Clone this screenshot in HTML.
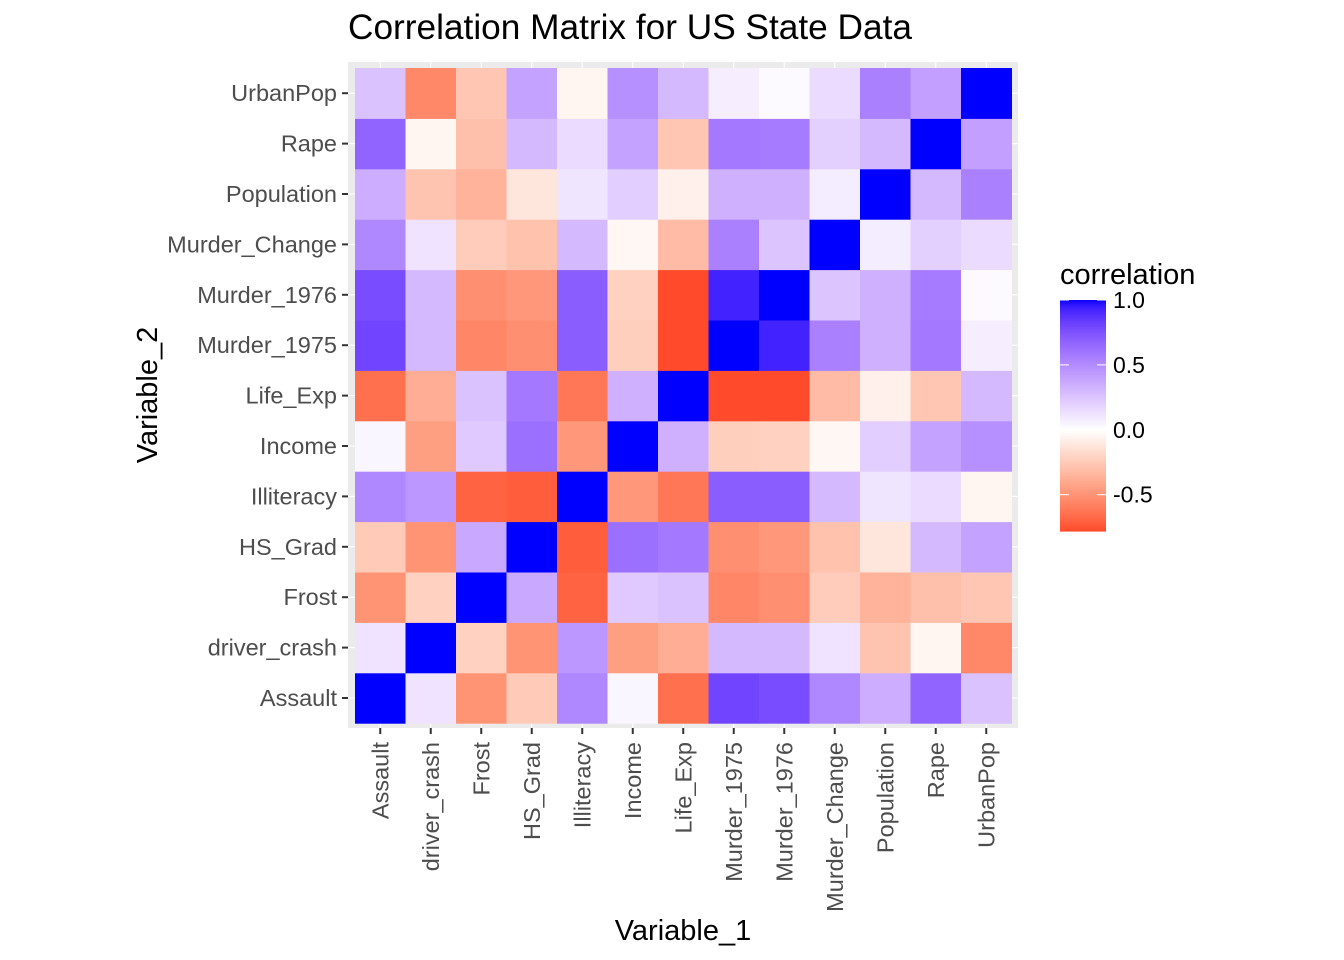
<!DOCTYPE html>
<html><head><meta charset="utf-8">
<style>
html,body{margin:0;padding:0;background:#fff;}
svg{display:block;font-family:"Liberation Sans",Arial,sans-serif;}
</style></head>
<body>
<svg id="chart" width="1344" height="960" viewBox="0 0 1344 960">
  <text x="348" y="39" font-size="35" fill="#000" textLength="564" lengthAdjust="spacingAndGlyphs">Correlation Matrix for US State Data</text>
  <rect x="348" y="62" width="670" height="666" fill="#EBEBEB"/>
  <g id="grid"></g>
  <g id="tiles"></g>
  <g id="xaxis"></g>
  <g id="yaxis"></g>
  <text x="683" y="940" font-size="29" text-anchor="middle" fill="#000">Variable_1</text>
  <text transform="translate(157,395) rotate(-90)" font-size="29" text-anchor="middle" fill="#000">Variable_2</text>
  <g id="legend">
    <text x="1060" y="284" font-size="29" fill="#000">correlation</text>
  </g>
</svg>
<script>
const categories = ["Assault","driver_crash","Frost","HS_Grad","Illiteracy","Income","Life_Exp","Murder_1975","Murder_1976","Murder_Change","Population","Rape","UrbanPop"];
// upper-triangle correlations of categories[i] with categories[i+1..]
const rowAssault = [0.12,-0.50,-0.25,0.52,0.04,-0.65,0.80,0.77,0.52,0.35,0.67,0.26];
const rowDriver = [-0.22,-0.50,0.45,-0.45,-0.38,0.30,0.30,0.12,-0.28,-0.05,-0.55];
const rowFrost = [0.37,-0.70,0.23,0.26,-0.56,-0.52,-0.24,-0.36,-0.30,-0.27];
const rowHSGrad = [-0.72,0.62,0.58,-0.52,-0.48,-0.29,-0.12,0.30,0.40];
const rowIllit = [-0.48,-0.62,0.70,0.70,0.30,0.11,0.15,-0.05];
const rowIncome = [0.34,-0.23,-0.22,-0.04,0.21,0.40,0.48];
const rowLifeExp = [-0.78,-0.78,-0.32,-0.07,-0.27,0.30];
const rowM75 = [0.93,0.55,0.34,0.58,0.07];
const rowM76 = [0.25,0.34,0.57,0.02];
const rowChange = [0.08,0.20,0.15];
const rowPop = [0.30,0.55];
const rowRape = [0.41];
const legendTicks = [1.0,0.5,0.0,-0.5];
const legendLabels = ["1.0","0.5","0.0","-0.5"];
const legendLimits = [-0.78,1.0];

const upper = [rowAssault,rowDriver,rowFrost,rowHSGrad,rowIllit,rowIncome,rowLifeExp,rowM75,rowM76,rowChange,rowPop,rowRape,[]];
const n = categories.length;
function corr(i,j){ if(i===j) return 1; const a=Math.min(i,j), b=Math.max(i,j); return upper[a][b-a-1]; }

const NS="http://www.w3.org/2000/svg";
const X0=355, Y0=68, CW=50.5, CH=50.4;
const xPos = i => X0 + i*CW;
const yPos = j => Y0 + (n-1-j)*CH;

function srgb2lin(c){c/=255;return c<=0.04045?c/12.92:Math.pow((c+0.055)/1.055,2.4);}
function lin2srgb(c){c=c<=0.0031308?12.92*c:1.055*Math.pow(c,1/2.4)-0.055;return Math.max(0,Math.min(255,Math.round(c*255)));}
function toLab(rgb){const r=srgb2lin(rgb[0]),g=srgb2lin(rgb[1]),b=srgb2lin(rgb[2]);
 let x=(0.4124*r+0.3576*g+0.1805*b)/0.95047,y=(0.2126*r+0.7152*g+0.0722*b),z=(0.0193*r+0.1192*g+0.9505*b)/1.08883;
 const f=t=>t>0.008856?Math.cbrt(t):7.787*t+16/116; x=f(x);y=f(y);z=f(z);
 return [116*y-16,500*(x-y),200*(y-z)];}
function fromLab(l){let y=(l[0]+16)/116,x=l[1]/500+y,z=y-l[2]/200;
 const fi=t=>t*t*t>0.008856?t*t*t:(t-16/116)/7.787; x=fi(x)*0.95047;y=fi(y);z=fi(z)*1.08883;
 const r=3.2406*x-1.5372*y-0.4986*z,g=-0.9689*x+1.8758*y+0.0415*z,b=0.0557*x-0.2040*y+1.0570*z;
 return [lin2srgb(r),lin2srgb(g),lin2srgb(b)];}
const LW=toLab([255,255,255]), LR=toLab([255,0,0]), LB=toLab([0,0,255]);
function color(v){let t=Math.min(1,Math.abs(v)); if(v<0) t=Math.min(1,t*1.1); const e=v>=0?LB:LR;
 const c=fromLab([0,1,2].map(k=>LW[k]+(e[k]-LW[k])*t)); return `rgb(${c[0]},${c[1]},${c[2]})`;}

function mk(tag,attrs,parent){const el=document.createElementNS(NS,tag);for(const k in attrs)el.setAttribute(k,attrs[k]);parent.appendChild(el);return el;}

const grid=document.getElementById('grid');
for(let i=0;i<n;i++){
  const gx=mk('line',{x1:xPos(i)+CW/2,x2:xPos(i)+CW/2,y1:62,y2:728,stroke:'#fff','stroke-width':1.1},grid);
  
  
  const gy=mk('line',{x1:348,x2:1018,y1:yPos(i)+CH/2,y2:yPos(i)+CH/2,stroke:'#fff','stroke-width':1.1},grid);
  
  
}
const tiles=document.getElementById('tiles');
for(let i=0;i<n;i++)for(let j=0;j<n;j++){
  const r=mk('rect',{x:xPos(i),y:yPos(j),width:CW+0.5,height:CH+0.5,fill:color(corr(i,j))},tiles);
  
  
}
const xa=document.getElementById('xaxis'), ya=document.getElementById('yaxis');
for(let i=0;i<n;i++){
  const cx=xPos(i)+CW/2;
  const t=mk('line',{x1:cx,x2:cx,y1:728,y2:734,stroke:'#333','stroke-width':2},xa);
  
  
  const l=mk('text',{transform:`translate(${cx+8},742) rotate(-90)`,'font-size':23.5,fill:'#4D4D4D','text-anchor':'end'},xa);
  l.textContent=categories[i];
  
  
  const cy=yPos(i)+CH/2;
  const t2=mk('line',{x1:342,x2:348,y1:cy,y2:cy,stroke:'#333','stroke-width':2},ya);
  
  
  const l2=mk('text',{x:337,y:cy+8,'font-size':23.5,fill:'#4D4D4D','text-anchor':'end'},ya);
  l2.textContent=categories[i];
  
  
}
const leg=document.getElementById('legend');
const LX=1060, LWd=46, LTop=300, LBot=531;
const ly = v => LTop + (legendLimits[1]-v)/(legendLimits[1]-legendLimits[0])*(LBot-LTop);
const steps=120;
for(let s=0;s<steps;s++){
  const v=legendLimits[1]-(legendLimits[1]-legendLimits[0])*(s+0.5)/steps;
  const y1=LTop+(LBot-LTop)*s/steps;
  const r=mk('rect',{x:LX,y:y1,width:LWd,height:(LBot-LTop)/steps+0.6,fill:color(v)},leg);
  
  
}
legendTicks.forEach((v,k)=>{
  const y=ly(v);
  const a=mk('line',{x1:LX,x2:LX+9,y1:y,y2:y,stroke:'#fff','stroke-width':1},leg);
  
  
  const b=mk('line',{x1:LX+LWd-9,x2:LX+LWd,y1:y,y2:y,stroke:'#fff','stroke-width':1},leg);
  
  
  const t=mk('text',{x:1113,y:y+8,'font-size':23,fill:'#000'},leg);
  t.textContent=legendLabels[k];
  
  
});
</script>
</body></html>
